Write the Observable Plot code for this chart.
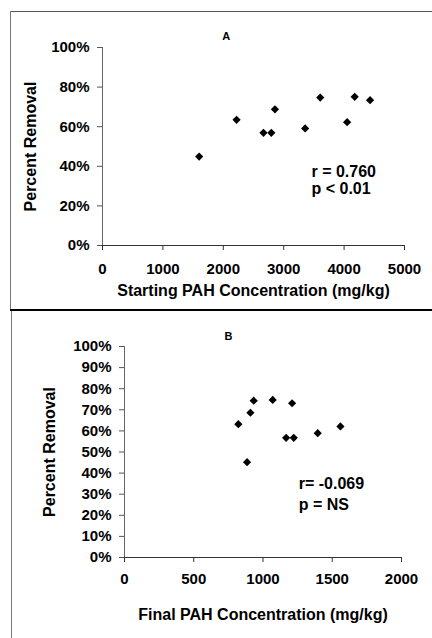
<!DOCTYPE html>
<html><head><meta charset="utf-8">
<script src="https://cdn.jsdelivr.net/npm/d3@7"></script>
<script src="https://cdn.jsdelivr.net/npm/@observablehq/plot@0.6"></script>
<style>
html,body{margin:0;padding:0;background:#fff;}
#wrap{position:relative;width:432px;height:638px;overflow:hidden;background:#fff;font-family:"Liberation Sans",Arial,sans-serif;}
.p{position:absolute;left:0;}
.ln{position:absolute;}
</style></head><body>
<div id="wrap">
  <div class="p" id="pa" style="top:0"></div>
  <div class="p" id="pb" style="top:310px"></div>
  <div class="ln" style="left:10px;top:11px;width:422px;height:1px;background:#555"></div>
  <div class="ln" style="left:10px;top:11px;width:1px;height:299px;background:#777"></div>
  <div class="ln" style="left:10px;top:309px;width:422px;height:2px;background:#000"></div>
  <div class="ln" style="left:11px;top:311px;width:1px;height:327px;background:#777"></div>
</div>
<script>
// Panel A
const startConc = [1600, 2220, 2665, 2795, 2855, 3355, 3605, 4050, 4175, 4430];
const removalA  = [44.9, 63.5, 56.9, 56.9, 68.8, 59.1, 74.7, 62.3, 75.1, 73.4];
const xTicksA = [0, 1000, 2000, 3000, 4000, 5000];
const yTicksA = [0, 20, 40, 60, 80, 100];
// Panel B
const finalConc = [822, 909, 933, 1070, 1210, 1167, 1222, 885, 1395, 1559];
const removalB  = [63.2, 68.6, 74.3, 74.7, 73.1, 56.7, 56.7, 45.2, 58.9, 62.1];
const xTicksB = [0, 500, 1000, 1500, 2000];
const yTicksB = [0, 10, 20, 30, 40, 50, 60, 70, 80, 90, 100];

const font = '"Liberation Sans", Arial, sans-serif';
const dataA = startConc.map((x, i) => ({x, y: removalA[i]}));
const dataB = finalConc.map((x, i) => ({x, y: removalB[i]}));
const pct = d => d + "%";

function panel({data, xDomain, xTicks, yTicks, xLabel, width, height, margins, xLabelOffset, yLabelOffset, xPad, yPad, letter, letterPos, note, notePos, noteLH}) {
  return Plot.plot({
    width, height,
    marginLeft: margins[0], marginRight: margins[1], marginTop: margins[2], marginBottom: margins[3],
    x: {domain: xDomain},
    y: {domain: [0, 100]},
    style: {fontFamily: font, fontWeight: "bold", color: "#000", background: "#fff", overflow: "visible"},
    marks: [
      Plot.ruleX([0], {stroke: "#666", strokeWidth: 1}),
      Plot.ruleY([0], {stroke: "#333", strokeWidth: 1}),
      Plot.axisX({ticks: xTicks, tickSize: 5, tickPadding: xPad, tickFormat: d3.format("d"), fontSize: 15, fontWeight: "bold", stroke: "#333", label: null}),
      Plot.axisX({ticks: [], label: xLabel, labelAnchor: "center", labelOffset: xLabelOffset, labelArrow: "none", fontSize: 16, fontWeight: "bold"}),
      Plot.axisY({ticks: yTicks, tickSize: 5, tickPadding: yPad, tickFormat: pct, fontSize: 15, fontWeight: "bold", stroke: "#555", label: null}),
      Plot.axisY({ticks: [], label: "Percent Removal", labelAnchor: "center", labelOffset: yLabelOffset, labelArrow: "none", fontSize: 16, fontWeight: "bold"}),
      Plot.dot(data, {x: "x", y: "y", symbol: "diamond2", r: 3.7, fill: "#000", stroke: "none"}),
      Plot.text([letter], {x: letterPos[0], y: letterPos[1], fontSize: 11, fontWeight: "bold", fill: "#000"}),
      Plot.text([note], {x: notePos[0], y: notePos[1], textAnchor: "start", lineAnchor: "top", lineHeight: noteLH, fontSize: 16, fontWeight: "bold", fill: "#000"})
    ]
  });
}

document.getElementById("pa").append(panel({
  data: dataA, xDomain: [0, 5000], xTicks: xTicksA, yTicks: yTicksA,
  xLabel: "Starting PAH Concentration (mg/kg)",
  width: 432, height: 310, margins: [102, 28, 47, 65],
  xLabelOffset: 50, yLabelOffset: 78, xPad: 13, yPad: 8,
  letter: "A", letterPos: [2050, 105.5],
  note: "r = 0.760\np < 0.01", notePos: [3460, 40.9], noteLH: 1.06
}));

document.getElementById("pb").append(panel({
  data: dataB, xDomain: [0, 2000], xTicks: xTicksB, yTicks: yTicksB,
  xLabel: "Final PAH Concentration (mg/kg)",
  width: 432, height: 328, margins: [124, 31, 36, 81],
  xLabelOffset: 62, yLabelOffset: 81, xPad: 11, yPad: 8,
  letter: "B", letterPos: [750, 104.7],
  note: "r= -0.069\np = NS", notePos: [1258, 39.3], noteLH: 1.28
}));
</script>
</body></html>
